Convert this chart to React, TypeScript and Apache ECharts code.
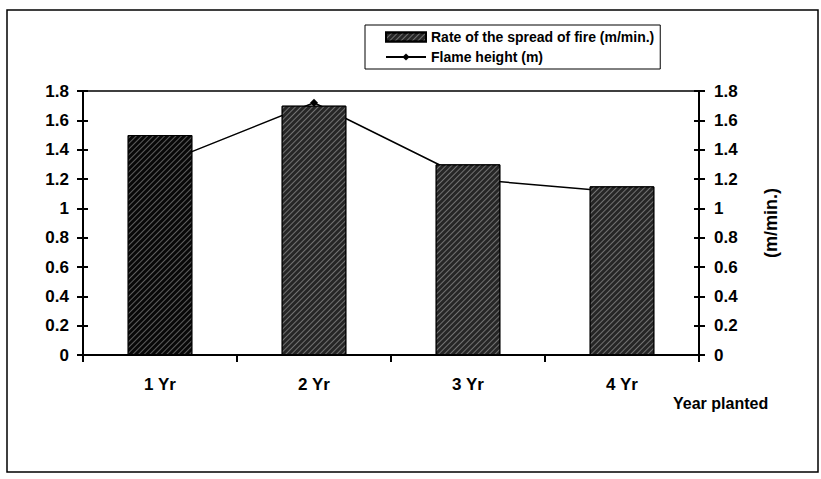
import React, { useEffect, useRef } from "react";
import * as echarts from "echarts";

const categories = ["1 Yr", "2 Yr", "3 Yr", "4 Yr"];
const spreadRate = [1.5, 1.7, 1.3, 1.15];
const flameHeight = [1.3, 1.72, 1.2, 1.11];
const barColors = ["#080808", "#262626", "#262626", "#262626"];
const axisMax = 1.8;
const axisStep = 0.2;

const FONT = "'Liberation Sans', Arial, sans-serif";

export default function App() {
  const ref = useRef<HTMLDivElement>(null);
  useEffect(() => {
    if (!ref.current) return;
    const chart = echarts.init(ref.current, null, { renderer: "svg" });
    const labelStyle = { color: "#000", fontFamily: FONT, fontWeight: "bold" as const, fontSize: 17 };
    const yBase = {
      type: "value" as const,
      min: 0,
      max: axisMax,
      interval: axisStep,
      splitLine: { show: false },
      axisLine: { show: true, lineStyle: { color: "#000", width: 2 } },
    };
    chart.setOption({
      animation: false,
      backgroundColor: "#fff",
      grid: {
        left: 83,
        right: 122,
        top: 91,
        bottom: 124,
        show: true,
        borderColor: "#000",
        borderWidth: 1.5,
        backgroundColor: "transparent",
      },
      legend: {
        orient: "vertical",
        left: 365,
        top: 25,
        backgroundColor: "#fff",
        borderColor: "#000",
        borderWidth: 1,
        borderRadius: 0,
        padding: [5, 6, 5, 20],
        itemGap: 6,
        itemWidth: 40,
        itemHeight: 9,
        textStyle: { color: "#000", fontFamily: FONT, fontWeight: "bold", fontSize: 14 },
        data: [
          { name: "Rate of the spread of fire (m/min.)", icon: "rect" },
          { name: "Flame height (m)" },
        ],
      },
      xAxis: {
        type: "category",
        data: categories,
        axisLine: { lineStyle: { color: "#000", width: 2 } },
        axisTick: { show: true, length: 7, lineStyle: { color: "#000", width: 2 } },
        axisLabel: { ...labelStyle, margin: 21 },
      },
      yAxis: [
        {
          ...yBase,
          position: "left",
          axisTick: { show: true, length: 6, lineStyle: { color: "#000", width: 2 } },
          axisLabel: { ...labelStyle, margin: 14 },
        },
        {
          ...yBase,
          position: "right",
          axisTick: { show: true, length: 6, lineStyle: { color: "#000", width: 2 } },
          axisLabel: { ...labelStyle, margin: 15 },
          name: "(m/min.)",
          nameLocation: "middle",
          nameGap: 63,
          nameTextStyle: { ...labelStyle, fontSize: 18 },
        },
        {
          ...yBase,
          position: "left",
          axisTick: { show: true, inside: true, length: 5, lineStyle: { color: "#000", width: 2 } },
          axisLabel: { show: false },
        },
        {
          ...yBase,
          position: "right",
          axisTick: { show: true, inside: true, length: 5, lineStyle: { color: "#000", width: 2 } },
          axisLabel: { show: false },
        },
      ],
      series: [
        {
          name: "Rate of the spread of fire (m/min.)",
          type: "bar",
          yAxisIndex: 0,
          barWidth: "42%",
          z: 3,
          itemStyle: {
            color: "#262626",
            borderColor: "#000",
            borderWidth: 1,
            decal: {
              symbol: "rect",
              dashArrayX: [1, 0],
              dashArrayY: [1, 3],
              rotation: -Math.PI / 4,
              color: "rgba(255,255,255,0.35)",
            },
          },
          data: spreadRate.map((v, i) => ({ value: v, itemStyle: { color: barColors[i] } })),
        },
        {
          name: "Flame height (m)",
          type: "line",
          yAxisIndex: 1,
          z: 1,
          symbol: "diamond",
          symbolSize: 8,
          lineStyle: { color: "#000", width: 1.5 },
          itemStyle: { color: "#000" },
          data: flameHeight,
        },
      ],
      graphic: [
        {
          type: "rect",
          shape: { x: 7, y: 10, width: 811, height: 462 },
          style: { fill: "none", stroke: "#000", lineWidth: 1.5 },
          silent: true,
        },
        {
          type: "text",
          x: 673,
          y: 403,
          style: {
            text: "Year planted",
            fill: "#000",
            font: `bold 16px ${FONT}`,
            verticalAlign: "middle",
          },
        },
      ],
    });
    return () => chart.dispose();
  }, []);
  return (
    <div
      ref={ref}
      style={{ position: "fixed", left: 0, top: 0, width: 821, height: 479, background: "#fff" }}
    />
  );
}
